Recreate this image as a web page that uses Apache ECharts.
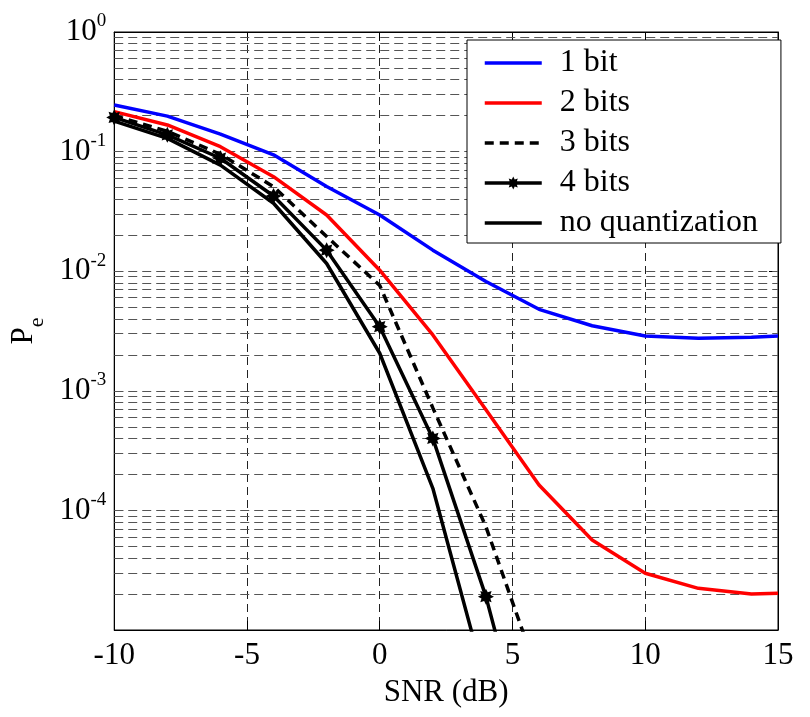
<!DOCTYPE html>
<html>
<head>
<meta charset="utf-8">
<script src="https://cdn.jsdelivr.net/npm/echarts@6/dist/echarts.min.js"></script>
<style>
  html, body { margin: 0; padding: 0; background: #fff; }
  #chart { width: 810px; height: 717px; }
</style>
</head>
<body>
<div id="chart"></div>
<script>
// SNR points (dB)
const snr = [-10, -8, -6, -4, -2, 0, 2, 4, 6, 8, 10, 12, 14, 15]

// error probability
const oneBit = [0.245, 0.198, 0.14, 0.094, 0.051, 0.0295, 0.015, 0.0082, 0.0048, 0.0035, 0.00287, 0.00275, 0.0028, 0.00287]
const twoBits = [0.216, 0.167, 0.11, 0.0617, 0.0295, 0.0102, 0.00293, 0.000695, 1.63e-4, 5.66e-5, 2.98e-5, 2.23e-5, 2.0e-5, 2.03e-5]
const threeBits = [0.2, 0.148, 0.095, 0.0509, 0.0195, 0.0076, 7.2e-4, 7.3e-5, 4e-6]
const fourBits = [0.193, 0.138, 0.088, 0.0425, 0.015, 0.00344, 4.0e-4, 1.9e-5, 4e-7]
const noQuant = [0.18, 0.129, 0.077, 0.037, 0.0116, 0.00206, 1.53e-4, 3.5e-6]

const seriesNames = ['1 bit', '2 bits', '3 bits', '4 bits', 'no quantization']

// log grid: mantissas in each decade
const decades = [-5, -4, -3, -2, -1]
const mantissas = [1, 2, 3, 4, 5, 6, 7, 8, 9]
const xRange = [-10, 15]

const font = "'Liberation Serif', 'Times New Roman', serif"

const pairs = (ys) => ys.map((y, i) => [snr[i], y])

const starPath = (n, ro, ri) => {
  let d = ''
  for (let i = 0; i < 2 * n; i++) {
    const r = i % 2 ? ri : ro
    const a = (i * Math.PI) / n - Math.PI / 2
    d += (i ? 'L' : 'M') + (r * Math.cos(a)).toFixed(2) + ',' + (r * Math.sin(a)).toFixed(2) + ' '
  }
  return 'path://' + d + 'Z'
}

// horizontal dashed grid at every 1..9 x 10^k
const gridLines = []
decades.forEach((e) => {
  mantissas.forEach((m) => {
    if (e === -5 && m === 1) return
    const v = m * Math.pow(10, e)
    gridLines.push({ coords: [[xRange[0], v], [xRange[1], v]] })
  })
})

const chart = echarts.init(document.getElementById('chart'), null, { renderer: 'canvas' })

// legend entries without a marker: keep the line, hide the symbol
const legendItems = seriesNames.map((name) =>
  name === '4 bits' ? { name } : { name, itemStyle: { opacity: 0 } }
)

chart.setOption({
  animation: false,
  backgroundColor: '#fff',
  textStyle: { fontFamily: font },
  grid: {
    left: 109, right: 32, top: 32, bottom: 87,
    show: true, borderColor: '#000', borderWidth: 1, backgroundColor: '#fff'
  },
  legend: {
    data: legendItems,
    orient: 'vertical',
    left: 467,
    top: 40,
    padding: [7, 23, 4, 16],
    itemWidth: 57,
    itemHeight: 16,
    itemGap: 8,
    selectedMode: false,
    backgroundColor: '#fff',
    borderColor: '#000',
    borderWidth: 1,
    borderRadius: 0,
    lineStyle: { width: 3.5 },
    textStyle: { fontFamily: font, fontSize: 32, color: '#000', lineHeight: 32, padding: [0, 0, 0, 13] }
  },
  xAxis: [
    {
      type: 'value',
      min: xRange[0],
      max: xRange[1],
      interval: 5,
      name: 'SNR (dB)',
      nameLocation: 'middle',
      nameGap: 47,
      nameTextStyle: { fontFamily: font, fontSize: 31, color: '#000' },
      axisLine: { onZero: false, lineStyle: { color: '#000', width: 1 } },
      axisTick: { inside: true, length: 9, lineStyle: { color: '#000' } },
      axisLabel: { fontFamily: font, fontSize: 31, color: '#000', margin: 10 },
      splitLine: { show: true, lineStyle: { color: '#222', width: 1, type: [8, 5] } }
    },
    {
      type: 'value',
      position: 'top',
      min: xRange[0],
      max: xRange[1],
      interval: 5,
      axisLine: { onZero: false, lineStyle: { color: '#000' } },
      axisTick: { inside: true, length: 9, lineStyle: { color: '#000' } },
      axisLabel: { show: false },
      splitLine: { show: false }
    }
  ],
  yAxis: [
    {
      type: 'log',
      logBase: 10,
      min: 1e-5,
      max: 1,
      name: '{p|P}{e|e}',
      nameLocation: 'middle',
      nameRotate: 90,
      nameGap: 42,
      nameTextStyle: {
        color: '#000',
        rich: {
          p: { fontFamily: font, fontSize: 31, lineHeight: 50, color: '#000' },
          e: { fontFamily: font, fontSize: 22, lineHeight: 16, verticalAlign: 'bottom', color: '#000' }
        }
      },
      axisLine: { onZero: false, lineStyle: { color: '#000', width: 1 } },
      axisTick: { inside: true, length: 9, lineStyle: { color: '#000' } },
      axisLabel: {
        margin: 8,
        showMinLabel: false,
        formatter: (v) => '{b|10}{s|' + Math.round(Math.log10(v)) + '}',
        rich: {
          b: { fontFamily: font, fontSize: 31, lineHeight: 40, color: '#000' },
          s: { fontFamily: font, fontSize: 19, lineHeight: 14, verticalAlign: 'top', color: '#000' }
        }
      },
      splitLine: { show: false }
    },
    {
      type: 'log',
      logBase: 10,
      min: 1e-5,
      max: 1,
      position: 'right',
      axisLine: { onZero: false, lineStyle: { color: '#000' } },
      axisTick: { inside: true, length: 9, lineStyle: { color: '#000' } },
      axisLabel: { show: false },
      splitLine: { show: false }
    }
  ],
  series: [
    {
      name: 'grid',
      type: 'lines',
      coordinateSystem: 'cartesian2d',
      silent: true,
      z: 1,
      lineStyle: { color: '#555', width: 1, type: [9, 5], opacity: 1 },
      data: gridLines
    },
    {
      name: '1 bit',
      type: 'line',
      data: pairs(oneBit),
      showSymbol: false,
      lineStyle: { color: '#0000ff', width: 3.5 },
      itemStyle: { color: '#0000ff' }
    },
    {
      name: '2 bits',
      type: 'line',
      data: pairs(twoBits),
      showSymbol: false,
      lineStyle: { color: '#ff0000', width: 3.5 },
      itemStyle: { color: '#ff0000' }
    },
    {
      name: '3 bits',
      type: 'line',
      data: pairs(threeBits),
      showSymbol: false,
      lineStyle: { color: '#000', width: 3.5, type: [9, 6] },
      itemStyle: { color: '#000' }
    },
    {
      name: '4 bits',
      type: 'line',
      data: pairs(fourBits),
      symbol: starPath(8, 10, 6),
      symbolSize: 16,
      showAllSymbol: true,
      lineStyle: { color: '#000', width: 3.5 },
      itemStyle: { color: '#000' }
    },
    {
      name: 'no quantization',
      type: 'line',
      data: pairs(noQuant),
      showSymbol: false,
      lineStyle: { color: '#000', width: 3.5 },
      itemStyle: { color: '#000' }
    }
  ]
})
</script>
</body>
</html>
